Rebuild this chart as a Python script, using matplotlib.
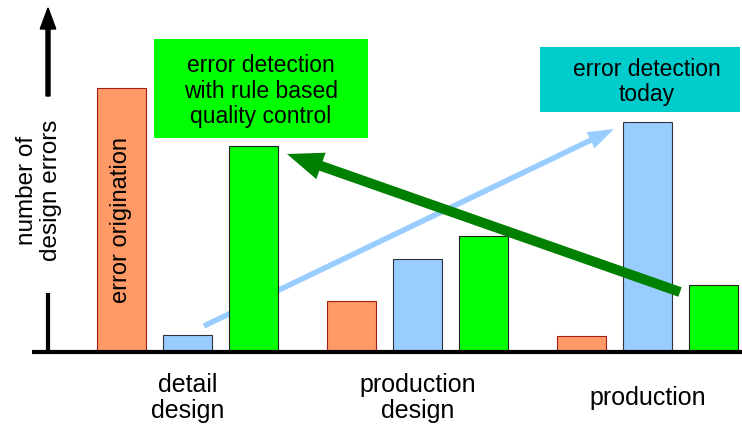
import numpy as np
import matplotlib.pyplot as plt
from matplotlib.patches import Rectangle

plt.rcParams['font.family'] = ['Liberation Sans', 'DejaVu Sans']

stages = ['detail\ndesign', 'production\ndesign', 'production']
origination = [26.4, 5.1, 1.6]      # error origination
found_today = [1.7, 9.3, 23.0]      # error detection today
found_rules = [20.6, 11.6, 6.7]     # detection with rule based quality control

fig = plt.figure(figsize=(7.42, 4.26), dpi=100)
ax = fig.add_axes([0, 0, 1, 1])
ax.set_xlim(0, 74.2)
ax.set_ylim(-7.4, 35.2)
ax.axis('off')

centers = 18.75 + 23 * np.arange(len(stages))
w = 4.9
ax.bar(centers - 6.6, origination, w, color='#FF9966', edgecolor='#A01E14', lw=0.8, zorder=3)
ax.bar(centers, found_today, w, color='#99CCFF', edgecolor='#2B3440', lw=0.8, zorder=3)
ax.bar(centers + 6.6, found_rules, w, color='#00FF00', edgecolor='#202020', lw=0.8, zorder=3)

# axes drawn by hand: baseline and y arrow with a gap for the label
ax.plot([3.2, 74.2], [0, 0], color='black', lw=3, solid_capstyle='butt', zorder=5)
ax.plot([4.8, 4.8], [0, 5.9], color='black', lw=3, solid_capstyle='butt', zorder=5)
ax.arrow(4.8, 25.6, 0, 8.8, width=0.4, head_width=1.55, head_length=2.1,
         length_includes_head=True, color='black', zorder=5)
ax.text(3.9, 16.2, 'number of\ndesign errors', rotation=90, ha='center', va='center',
        fontsize=17.5, linespacing=1.1)

ax.text(centers[0] - 6.6, 13.2, 'error origination', rotation=90, ha='center',
        va='center', fontsize=17, zorder=4)

for c, s in zip(centers, stages):
    ax.text(c, -4.6, s, ha='center', va='center', fontsize=18, linespacing=1.1)

# trend arrows
ax.arrow(20.4, 2.6, 41.0, 19.7, width=0.55, head_width=1.8, head_length=2.6,
         length_includes_head=True, color='#99CCFF', lw=0, zorder=2)
ax.arrow(68.0, 6.0, -39.3, 13.8, width=1.0, head_width=2.8, head_length=3.6,
         length_includes_head=True, color='#008000', lw=0, zorder=6)

# callout boxes
ax.add_patch(Rectangle((15.4, 21.4), 21.4, 9.9, color='#00FF00', lw=0, zorder=4))
ax.text(26.1, 26.1, 'error detection\nwith rule based\nquality control', ha='center',
        va='center', fontsize=16.5, linespacing=1.15, zorder=5)
ax.add_patch(Rectangle((54.0, 24.0), 20.0, 6.5, color='#00CCCC', lw=0, zorder=4))
ax.text(64.7, 27.0, 'error detection\ntoday', ha='center', va='center',
        fontsize=16.5, linespacing=1.15, zorder=5)

fig.savefig('out.png', dpi=100)
